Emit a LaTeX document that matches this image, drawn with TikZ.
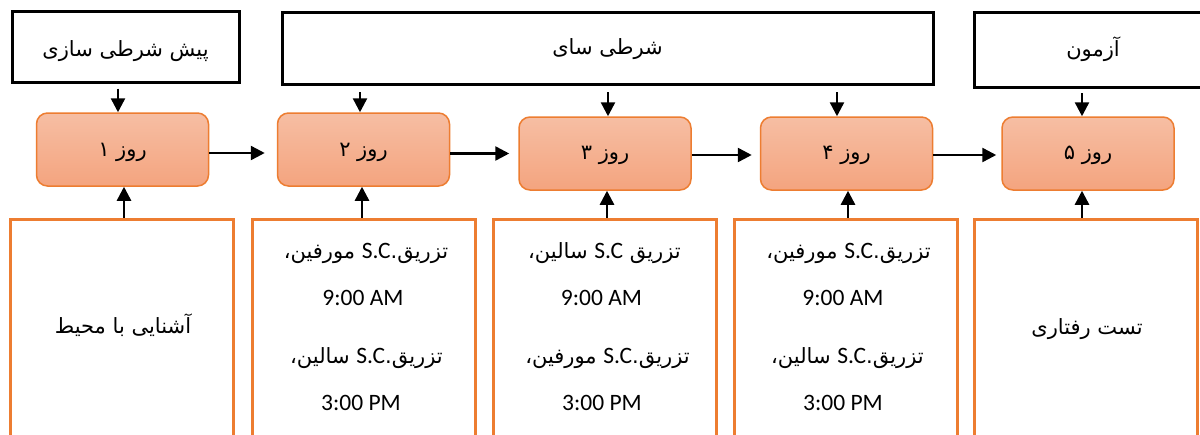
\documentclass[tikz,border=0pt]{standalone}
\usepackage{fontspec}
\setmainfont{Carlito}
\newfontfamily\fafont[Script=Arabic]{DejaVu Sans}
\TeXXeTstate=1
\usetikzlibrary{arrows.meta}
\newcommand{\fatxt}[1]{{\fafont\beginR #1\endR}}
\newcommand{\latxt}[1]{\beginL{\rmfamily\fontsize{23.5}{28}\selectfont #1}\endL{}}
\newcommand{\lowr}[2]{\raisebox{-#1}[\height][\depth]{#2}}
\definecolor{orng}{HTML}{ED7D31}
\definecolor{dtop}{HTML}{F6BEA3}
\definecolor{dbot}{HTML}{F4A47F}
\begin{document}
\begin{tikzpicture}[x=1pt,y=-1pt,
  topbox/.style={draw=black, line width=3pt, inner sep=0pt, font=\fontsize{21}{25}\selectfont},
  daybox/.style={draw=orng, line width=1.5pt, rounded corners=11pt, top color=dtop, bottom color=dbot,
     minimum width=172pt, minimum height=73pt, inner sep=0pt, font=\fontsize{21}{25}\selectfont},
  botbox/.style={draw=orng, line width=3pt, minimum width=223pt, minimum height=241pt, inner sep=0pt},
  falbl/.style={inner sep=0pt, font=\fontsize{21}{25}\selectfont},
  tmlbl/.style={inner sep=0pt, font=\fontsize{23.5}{28}\selectfont},
  arr/.style={line width=2.5pt, -{Triangle[length=14pt,width=14pt]}}
]
\clip (0,0) rectangle (1200,434);
\fill[white] (0,0) rectangle (1200,434);
% top boxes
\node[topbox, minimum width=227pt, minimum height=71pt] (ta) at (125.5,47) {\lowr{4pt}{\fatxt{پیش شرطی سازی}}};
\node[topbox, minimum width=651pt, minimum height=72pt] (tb) at (607.5,48) {\lowr{1pt}{\fatxt{شرطی سای}}};
\node[topbox, minimum width=238pt, minimum height=75pt] (tc) at (1093,49.5) {\fatxt{آزمون}};
% day boxes
\node[daybox] (d1) at (122.5,149.5) {\lowr{3pt}{\fatxt{روز ۱}}};
\node[daybox] (d2) at (363.5,149.5) {\lowr{3pt}{\fatxt{روز ۲}}};
\node[daybox] (d3) at (605,153.5) {\lowr{2pt}{\fatxt{روز ۳}}};
\node[daybox] (d4) at (846.5,153.5) {\lowr{2pt}{\fatxt{روز ۴}}};
\node[daybox] (d5) at (1088,153.5) {\lowr{2pt}{\fatxt{روز ۵}}};
% bottom boxes
\node[botbox] (b1) at (121.5,339.5) {};
\node[botbox] (b2) at (363.5,339.5) {};
\node[botbox] (b3) at (604.5,339.5) {};
\node[botbox] (b4) at (846,339.5) {};
\node[botbox] (b5) at (1085.5,339.5) {};
% bottom texts
\node[falbl] (b1t) at (123,325) {\fatxt{آشنایی با محیط}};
\node[falbl] (b5t) at (1087,329) {\fatxt{تست رفتاری}};
\node[falbl] (b2a) at (366,253) {\fatxt{تزریق.\latxt{S.C} مورفین،}};
\node[tmlbl] (b2b) at (363,298) {9:00 AM};
\node[falbl] (b2c) at (366.5,358) {\fatxt{تزریق.\latxt{S.C} سالین،}};
\node[tmlbl] (b2d) at (361,403) {3:00 PM};
\node[falbl] (b3a) at (604.5,253) {\fatxt{تزریق \latxt{S.C} سالین،}};
\node[tmlbl] (b3b) at (601.5,298) {9:00 AM};
\node[falbl] (b3c) at (607.5,358) {\fatxt{تزریق.\latxt{S.C} مورفین،}};
\node[tmlbl] (b3d) at (602,403) {3:00 PM};
\node[falbl] (b4a) at (848.5,253) {\fatxt{تزریق.\latxt{S.C} مورفین،}};
\node[tmlbl] (b4b) at (843,298) {9:00 AM};
\node[falbl] (b4c) at (847.5,358) {\fatxt{تزریق.\latxt{S.C} سالین،}};
\node[tmlbl] (b4d) at (843,403) {3:00 PM};
% top arrows
\draw[arr, shorten <=4.5pt] ([xshift=-4.5pt]d1.north |- ta.south) -- ([xshift=-4.5pt]d1.north);
\draw[arr, shorten <=6.5pt] ([xshift=-3.5pt]d2.north |- tb.south) -- ([xshift=-3.5pt]d2.north);
\draw[arr, shorten <=6.5pt] ([xshift=3pt]d3.north |- tb.south) -- ([xshift=3pt]d3.north);
\draw[arr, shorten <=6.5pt] ([xshift=-9.5pt]d4.north |- tb.south) -- ([xshift=-9.5pt]d4.north);
\draw[arr, shorten <=4.5pt] ([xshift=-6pt]d5.north |- tc.south) -- ([xshift=-6pt]d5.north);
% horizontal arrows
\draw[arr, shorten >=12pt] ([yshift=-3.5pt]d1.east) -- ([yshift=-3.5pt]d2.west);
\draw[arr, shorten >=9pt] (d2.east |- d3.west) -- (d3.west);
\draw[arr, shorten >=8pt] ([yshift=-1.5pt]d3.east) -- ([yshift=-1.5pt]d4.west);
\draw[arr, shorten >=5pt] ([yshift=-1.5pt]d4.east) -- ([yshift=-1.5pt]d5.west);
% bottom arrows
\draw[arr] ([xshift=2.5pt]b1.north) -- ([xshift=2.5pt]b1.north |- d1.south);
\draw[arr] ([xshift=-1.5pt]b2.north) -- ([xshift=-1.5pt]b2.north |- d2.south);
\draw[arr] ([xshift=2.5pt]b3.north) -- ([xshift=2.5pt]b3.north |- d3.south);
\draw[arr] ([xshift=2pt]b4.north) -- ([xshift=2pt]b4.north |- d4.south);
\draw[arr] ([xshift=-3.5pt]b5.north) -- ([xshift=-3.5pt]b5.north |- d5.south);
\end{tikzpicture}
\end{document}
